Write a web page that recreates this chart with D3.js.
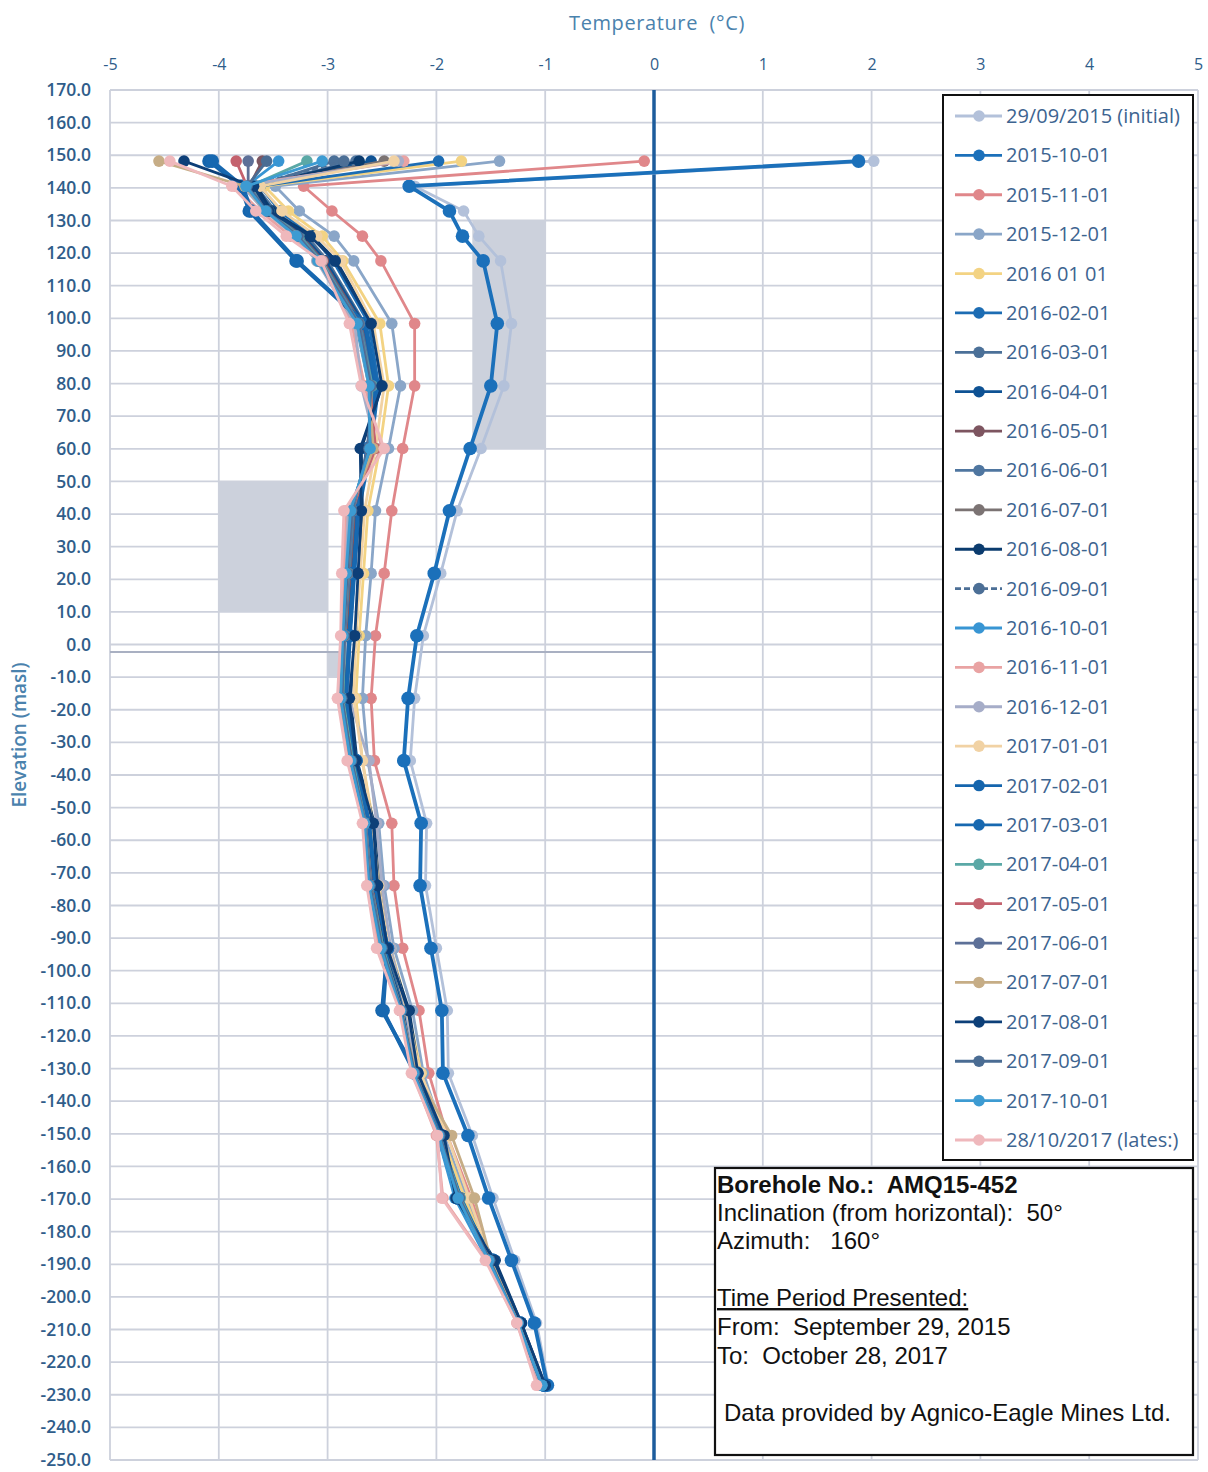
<!DOCTYPE html>
<html><head><meta charset="utf-8">
<script src="https://cdn.jsdelivr.net/npm/d3@7"></script>
<style>body{margin:0;background:#fff}svg{display:block}text{white-space:pre}</style>
</head><body>
<script>
// ---- DATA ----
const elevations = [148.2, 140.5, 132.9, 125.2, 117.6, 98.4, 79.3, 60.1, 41.0, 21.8, 2.7, -16.5, -35.6, -54.8, -73.9, -93.1, -112.2, -131.4, -150.5, -169.7, -188.8, -208.0, -227.1];
const xTicks = [-5,-4,-3,-2,-1,0,1,2,3,4,5];
const yTicks = d3.range(170, -251, -10);
const seriesNames = ["29/09/2015 (initial)","2015-10-01","2015-11-01","2015-12-01","2016 01 01","2016-02-01","2016-03-01","2016-04-01","2016-05-01","2016-06-01","2016-07-01","2016-08-01","2016-09-01","2016-10-01","2016-11-01","2016-12-01","2017-01-01","2017-02-01","2017-03-01","2017-04-01","2017-05-01","2017-06-01","2017-07-01","2017-08-01","2017-09-01","2017-10-01","28/10/2017 (lates:)"];
const t_2015_09_29 = [2.02,-2.20,-1.75,-1.61,-1.41,-1.31,-1.38,-1.59,-1.81,-1.96,-2.12,-2.20,-2.24,-2.09,-2.10,-2.00,-1.90,-1.89,-1.67,-1.48,-1.28,-1.08,-0.97];
const t_2015_10 = [1.88,-2.25,-1.88,-1.76,-1.57,-1.44,-1.50,-1.69,-1.88,-2.02,-2.18,-2.26,-2.30,-2.14,-2.15,-2.05,-1.95,-1.94,-1.71,-1.52,-1.31,-1.10,-0.98];
const t_2015_11 = [-0.09,-3.22,-2.96,-2.68,-2.51,-2.20,-2.20,-2.31,-2.41,-2.48,-2.56,-2.60,-2.57,-2.41,-2.39,-2.31,-2.16,-2.07,-1.90,-1.68,-1.50,-1.22,-1.02];
const t_2015_12 = [-1.42,-3.48,-3.26,-2.94,-2.76,-2.41,-2.33,-2.44,-2.56,-2.60,-2.65,-2.68,-2.63,-2.53,-2.48,-2.39,-2.22,-2.12,-1.93,-1.72,-1.50,-1.24,-1.03];
const t_2016_01 = [-1.77,-3.58,-3.36,-3.05,-2.86,-2.52,-2.44,-2.52,-2.63,-2.67,-2.71,-2.74,-2.68,-2.58,-2.52,-2.42,-2.26,-2.14,-1.95,-1.74,-1.51,-1.24,-1.03];
const t_2016_02 = [-1.98,-3.62,-3.44,-3.14,-2.95,-2.62,-2.53,-2.60,-2.71,-2.75,-2.79,-2.82,-2.74,-2.62,-2.56,-2.46,-2.29,-2.18,-1.97,-1.77,-1.50,-1.24,-1.02];
const t_2016_03 = [-2.94,-3.66,-3.48,-3.19,-3.00,-2.66,-2.55,-2.62,-2.73,-2.77,-2.81,-2.84,-2.75,-2.63,-2.57,-2.47,-2.30,-2.18,-1.97,-1.78,-1.50,-1.24,-1.02];
const t_2016_04 = [-2.60,-3.68,-3.50,-3.22,-3.02,-2.67,-2.55,-2.64,-2.74,-2.78,-2.82,-2.85,-2.76,-2.64,-2.58,-2.48,-2.31,-2.19,-1.98,-1.79,-1.50,-1.24,-1.02];
const t_2016_05 = [-3.60,-3.72,-3.52,-3.24,-3.04,-2.69,-2.57,-2.62,-2.75,-2.79,-2.83,-2.86,-2.77,-2.65,-2.59,-2.49,-2.32,-2.20,-1.98,-1.80,-1.51,-1.24,-1.02];
const t_2016_06 = [-2.74,-3.70,-3.53,-3.25,-3.05,-2.70,-2.57,-2.63,-2.76,-2.80,-2.84,-2.86,-2.77,-2.65,-2.60,-2.49,-2.32,-2.20,-1.98,-1.80,-1.51,-1.25,-1.03];
const t_2016_07 = [-2.48,-3.72,-3.55,-3.27,-3.07,-2.72,-2.60,-2.58,-2.78,-2.81,-2.85,-2.87,-2.78,-2.66,-2.61,-2.50,-2.33,-2.21,-1.99,-1.81,-1.52,-1.25,-1.03];
const t_2016_08 = [-2.71,-3.65,-3.52,-3.14,-2.92,-2.59,-2.50,-2.69,-2.68,-2.71,-2.74,-2.79,-2.73,-2.57,-2.53,-2.44,-2.25,-2.16,-1.95,-1.82,-1.46,-1.22,-1.00];
const t_2016_09 = [-2.85,-3.73,-3.55,-3.28,-3.08,-2.73,-2.61,-2.60,-2.79,-2.82,-2.85,-2.88,-2.79,-2.66,-2.61,-2.51,-2.33,-2.21,-1.99,-1.82,-1.52,-1.25,-1.03];
const t_2016_10 = [-3.45,-3.75,-3.56,-3.29,-3.09,-2.74,-2.62,-2.59,-2.80,-2.83,-2.86,-2.88,-2.80,-2.67,-2.62,-2.52,-2.33,-2.21,-1.99,-1.83,-1.53,-1.25,-1.04];
const t_2016_11 = [-2.30,-3.85,-3.62,-3.34,-3.05,-2.78,-2.66,-2.50,-2.83,-2.85,-2.87,-2.89,-2.81,-2.67,-2.63,-2.53,-2.33,-2.22,-2.00,-1.94,-1.54,-1.26,-1.06];
const t_2016_12 = [-2.35,-3.78,-3.58,-3.30,-3.10,-2.75,-2.69,-2.55,-2.81,-2.83,-2.84,-2.80,-2.62,-2.55,-2.50,-2.42,-2.28,-2.18,-1.97,-1.80,-1.52,-1.25,-1.04];
const t_2017_01 = [-2.39,-3.62,-3.42,-3.10,-2.88,-2.58,-2.48,-2.56,-2.66,-2.70,-2.74,-2.76,-2.68,-2.59,-2.53,-2.44,-2.27,-2.15,-1.90,-1.70,-1.50,-1.24,-1.03];
const t_2017_02 = [-4.09,-3.80,-3.72,null,-3.29,-2.66,-2.56,-2.62,-2.72,-2.76,-2.80,-2.83,-2.74,-2.62,-2.56,-2.45,-2.50,-2.18,-1.96,-1.80,-1.48,-1.23,-1.01];
const t_2017_03 = [-4.06,-3.78,-3.70,null,-3.28,-2.65,-2.55,-2.63,-2.72,-2.76,-2.80,-2.83,-2.74,-2.62,-2.56,-2.45,-2.49,-2.20,-1.96,-1.80,-1.48,-1.23,-1.01];
const t_2017_04 = [-3.19,-3.72,-3.54,-3.26,-3.06,-2.71,-2.59,-2.62,-2.77,-2.81,-2.84,-2.86,-2.77,-2.65,-2.60,-2.49,-2.32,-2.20,-1.97,-1.78,-1.51,-1.25,-1.03];
const t_2017_05 = [-3.84,-3.74,-3.56,-3.28,-3.08,-2.72,-2.61,-2.56,-2.78,-2.82,-2.85,-2.87,-2.78,-2.66,-2.61,-2.50,-2.33,-2.21,-1.98,-1.79,-1.52,-1.25,-1.03];
const t_2017_06 = [-3.73,-3.73,-3.55,-3.27,-3.07,-2.71,-2.60,-2.63,-2.77,-2.81,-2.84,-2.87,-2.78,-2.65,-2.60,-2.50,-2.32,-2.20,-1.97,-1.79,-1.51,-1.25,-1.03];
const t_2017_07 = [-4.55,-3.76,-3.57,-3.29,-3.09,-2.73,-2.62,-2.58,-2.79,-2.82,-2.85,-2.88,-2.79,-2.66,-2.61,-2.51,-2.32,-2.19,-1.86,-1.65,-1.50,-1.24,-1.03];
const t_2017_08 = [-4.32,-3.68,-3.54,-3.16,-2.93,-2.60,-2.50,-2.70,-2.69,-2.72,-2.75,-2.80,-2.74,-2.58,-2.54,-2.45,-2.26,-2.17,-1.93,-1.82,-1.47,-1.22,-1.00];
const t_2017_09 = [-3.56,-3.74,-3.56,-3.28,-3.08,-2.72,-2.61,-2.62,-2.78,-2.82,-2.85,-2.87,-2.78,-2.66,-2.61,-2.50,-2.32,-2.20,-1.97,-1.79,-1.51,-1.25,-1.03];
const t_2017_10 = [-3.05,-3.75,-3.57,-3.29,-3.09,-2.73,-2.62,-2.61,-2.79,-2.83,-2.86,-2.88,-2.79,-2.66,-2.62,-2.51,-2.33,-2.21,-1.98,-1.80,-1.52,-1.25,-1.03];
const t_2017_10_28 = [-4.45,-3.88,-3.66,-3.38,-3.06,-2.80,-2.69,-2.48,-2.85,-2.87,-2.88,-2.91,-2.82,-2.68,-2.64,-2.55,-2.34,-2.23,-1.99,-1.95,-1.55,-1.26,-1.08];
const seriesValues = [t_2015_09_29,t_2015_10,t_2015_11,t_2015_12,t_2016_01,t_2016_02,t_2016_03,t_2016_04,t_2016_05,t_2016_06,t_2016_07,t_2016_08,t_2016_09,t_2016_10,t_2016_11,t_2016_12,t_2017_01,t_2017_02,t_2017_03,t_2017_04,t_2017_05,t_2017_06,t_2017_07,t_2017_08,t_2017_09,t_2017_10,t_2017_10_28];
const seriesColors = ["#b3c1da","#1b70ba","#e0878a","#8aa6c8","#f3d383","#1c6cb3","#4b7098","#0e5294","#7d5560","#4f76a0","#7b7373","#0b3b6e","#4c6f96","#3895d3","#e9a3a3","#a6adc8","#f1d2a4","#1565ad","#1768b0","#5aa8a6","#c4626e","#5d7098","#c6ad86","#0d3f78","#4a6c93","#3d9bd2","#efb8bc"];
const shadedZones = [{x0:-1.67,x1:-1.0,e0:130,e1:60},{x0:-4,x1:-3,e0:50,e1:10},{x0:-3,x1:-2.88,e0:-2.3,e1:-10}];
const infoLines = ["Borehole No.:  AMQ15-452","Inclination (from horizontal):  50°","Azimuth:   160°","","Time Period Presented:","From:  September 29, 2015","To:  October 28, 2017","","Data provided by Agnico-Eagle Mines Ltd."];

// ---- CHART ----
const W = 1208, H = 1472;
const svg = d3.select("body").append("svg").attr("width", W).attr("height", H);
const x = d3.scaleLinear().domain([-5, 5]).range([110, 1198]);
const y = d3.scaleLinear().domain([170, -250]).range([90, 1460]);
const axisColor = "#2f5d8a";
const font = "'Open Sans', Lato, sans-serif";

// grid
const g = svg.append("g");
g.selectAll(".hg").data(yTicks).join("line")
  .attr("x1", x(-5)).attr("x2", x(5)).attr("y1", d => y(d)).attr("y2", d => y(d))
  .attr("stroke", "#cdd1dc").attr("stroke-width", 1.8);
g.selectAll(".vg").data(xTicks).join("line")
  .attr("x1", d => x(d)).attr("x2", d => x(d)).attr("y1", y(170)).attr("y2", y(-250))
  .attr("stroke", "#cdd1dc").attr("stroke-width", 1.8);

// shaded zones
svg.append("g").selectAll("rect").data(shadedZones).join("rect")
  .attr("x", d => x(d.x0)).attr("width", d => x(d.x1) - x(d.x0))
  .attr("y", d => y(d.e0)).attr("height", d => y(d.e1) - y(d.e0))
  .attr("fill", "#ccd1dc");

// ground line
svg.append("line").attr("x1", x(-5)).attr("x2", x(0)).attr("y1", y(-2.3)).attr("y2", y(-2.3))
  .attr("stroke", "#a9b0c2").attr("stroke-width", 2);

// zero line
svg.append("line").attr("x1", x(0)).attr("x2", x(0)).attr("y1", y(170)).attr("y2", y(-250))
  .attr("stroke", "#1d5c9c").attr("stroke-width", 3.5);

// axes
const xAxis = svg.append("g").attr("transform", "translate(0,70)")
  .call(d3.axisTop(x).tickValues(xTicks).tickSize(0).tickPadding(0).tickFormat(d => String(d)));
xAxis.select(".domain").remove();
xAxis.selectAll("text").attr("fill", axisColor).style("font", "16px " + font);

const yAxis = svg.append("g").attr("transform", "translate(91,0)")
  .call(d3.axisLeft(y).tickValues(yTicks).tickSize(0).tickPadding(0).tickFormat(d => d.toFixed(1)));
yAxis.select(".domain").remove();
yAxis.selectAll("text").attr("fill", axisColor).style("font", "600 17.5px " + font);

svg.append("text").attr("x", 657).attr("y", 30).attr("text-anchor", "middle")
  .attr("fill", "#4a82ad").style("font", "20px " + font).attr("letter-spacing", 0.6).text("Temperature  (°C)");
svg.append("text").attr("transform", "translate(26,735) rotate(-90)").attr("text-anchor", "middle")
  .attr("fill", "#4a82ad").style("font", "600 19px " + font).text("Elevation (masl)");

// series
const line = d3.line().x(d => x(d.t)).y(d => y(d.e));
const series = seriesNames.map((name, i) => ({
  name, color: seriesColors[i], dashed: name === "2016-09-01",
  pts: seriesValues[i].map((t, j) => ({t, e: elevations[j]})).filter(p => p.t !== null)
}));
const sg = svg.append("g");
series.forEach((s, i) => {
  const big = s.name === "2015-10-01" || s.name === "2017-02-01" || s.name === "2017-03-01";
  sg.append("path").datum(s.pts).attr("d", line).attr("fill", "none")
    .attr("stroke", s.color).attr("stroke-width", big ? 3.8 : 2.8)
    .attr("stroke-dasharray", s.dashed ? "6,3" : null).attr("stroke-linejoin", "round");
  sg.append("g").selectAll("circle").data(s.pts).join("circle")
    .attr("cx", d => x(d.t)).attr("cy", d => y(d.e)).attr("r", big ? 6.8 : 5.8)
    .attr("fill", s.color);
});

// legend
const lg = svg.append("g");
lg.append("rect").attr("x", 943).attr("y", 95).attr("width", 250).attr("height", 1065)
  .attr("fill", "#fff").attr("stroke", "#111").attr("stroke-width", 2);
const ly = d3.scaleLinear().domain([0, seriesNames.length - 1]).range([116, 1140]);
series.forEach((s, i) => {
  const yy = ly(i);
  lg.append("line").attr("x1", 955).attr("x2", 1002).attr("y1", yy).attr("y2", yy)
    .attr("stroke", s.color).attr("stroke-width", 2.8).attr("stroke-dasharray", s.dashed ? "6,3" : null);
  lg.append("circle").attr("cx", 979).attr("cy", yy).attr("r", 5.8).attr("fill", s.color);
  lg.append("text").attr("x", 1006).attr("y", yy).attr("dy", "0.35em")
    .attr("fill", "#3d6490").style("font", "20px " + font).text(s.name);
});

// info box
const ib = svg.append("g");
ib.append("rect").attr("x", 715).attr("y", 1168).attr("width", 478).attr("height", 287)
  .attr("fill", "#fff").attr("stroke", "#111").attr("stroke-width", 2.2);
const infoY = [1193, 1221, 1249, 0, 1306, 1335, 1364, 0, 1421];
infoLines.forEach((t, i) => {
  if (!t) return;
  const tx = ib.append("text").attr("x", i === 8 ? 724 : 717).attr("y", infoY[i])
    .attr("fill", "#111").style("font", (i === 0 ? "bold " : "") + "24px 'Liberation Sans', Arial, sans-serif").text(t);
  if (i === 4) tx.attr("text-decoration", "underline");
});
</script>
</body></html>
